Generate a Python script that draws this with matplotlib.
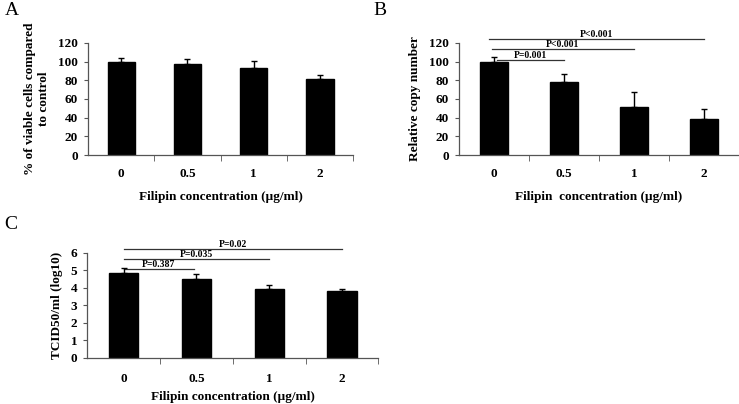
import matplotlib
matplotlib.use("Agg")
import matplotlib.pyplot as plt
import numpy as np

categories = ["0", "0.5", "1", "2"]
a_values = [100, 97.5, 93, 81.5]
a_errors = [3.5, 5, 7.5, 4]
b_values = [100, 78, 51, 39]
b_errors = [5, 8.5, 16.5, 10]
c_values = [4.87, 4.53, 3.93, 3.82]
c_errors = [0.28, 0.28, 0.25, 0.13]

b_sig = [("P=0.001", 0.04, 1.0, 101.8), ("P<0.001", -0.03, 2.0, 113.6), ("P<0.001", -0.07, 3.0, 124.2)]
c_sig = [("P=0.387", 0.0, 0.97, 5.08), ("P=0.035", 0.0, 2.0, 5.64), ("P=0.02", 0.0, 3.0, 6.21)]

plt.rcParams['font.family'] = ['Liberation Serif', 'DejaVu Serif']
plt.rcParams['font.weight'] = 'bold'

fig = plt.figure(figsize=(7.39, 4.04), dpi=100)

def setup(ax, values, errors, ylim, yticks, ylabel, xlabel, width, tpad, lpad):
    x = np.arange(len(categories))
    ax.bar(x, values, width=width, color='black', edgecolor='black', zorder=2)
    ax.errorbar(x, values, yerr=[np.zeros(len(errors)), errors], fmt='none',
                ecolor='black', elinewidth=1, capsize=2.5, capthick=1, zorder=3)
    ax.set_xlim(-0.5, 3.5)
    ax.set_ylim(*ylim)
    ax.set_yticks(yticks)
    ax.set_xticks(x)
    ax.set_xticklabels(categories)
    ax.set_xticks([0.5, 1.5, 2.5, 3.5], minor=True)
    ax.tick_params(axis='x', which='major', length=0, pad=tpad, labelsize=9.5)
    ax.tick_params(axis='x', which='minor', length=4, direction='out', color='#555555')
    ax.tick_params(axis='y', length=3, direction='out', labelsize=9.5, color='#555555', pad=4)
    for s in ['top', 'right']:
        ax.spines[s].set_visible(False)
    for s in ['left', 'bottom']:
        ax.spines[s].set_color('#555555')
        ax.spines[s].set_linewidth(0.9)
    ax.set_ylabel(ylabel, fontsize=9.5, fontweight='bold', labelpad=6)
    ax.set_xlabel(xlabel, fontsize=9.5, fontweight='bold', labelpad=lpad)
    for lab in ax.get_xticklabels() + ax.get_yticklabels():
        lab.set_fontweight('bold')

axA = fig.add_axes([0.119, 0.616, 0.359, 0.278])
setup(axA, a_values, a_errors, (0, 120), range(0, 121, 20),
      "% of viable cells compared\nto control", "Filipin concentration (\u00b5g/ml)", 0.41, 9, 8)

axB = fig.add_axes([0.621, 0.616, 0.379, 0.278])
setup(axB, b_values, b_errors, (0, 120), range(0, 121, 20),
      "Relative copy number", "Filipin  concentration (\u00b5g/ml)", 0.4, 9, 8)

axC = fig.add_axes([0.118, 0.1146, 0.394, 0.2592])
setup(axC, c_values, c_errors, (0, 6), range(0, 7, 1),
      "TCID50/ml (log10)", "Filipin concentration (\u00b5g/ml)", 0.4, 11, 4)

for ax, sig, off in [(axB, b_sig, 0.3), (axC, c_sig, 0.0)]:
    for text, x0, x1, y in sig:
        ax.plot([x0, x1], [y, y], color='#333333', lw=0.9, clip_on=False)
        ax.text((x0 + x1) / 2, y + off, text, ha='center', va='bottom',
                fontsize=7, fontweight='bold')

fig.text(0.006, 0.995, "A", fontsize=14, fontweight='normal', va='top', ha='left')
fig.text(0.505, 0.995, "B", fontsize=14, fontweight='normal', va='top', ha='left')
fig.text(0.006, 0.465, "C", fontsize=14, fontweight='normal', va='top', ha='left')

fig.savefig("out.png", dpi=100)
